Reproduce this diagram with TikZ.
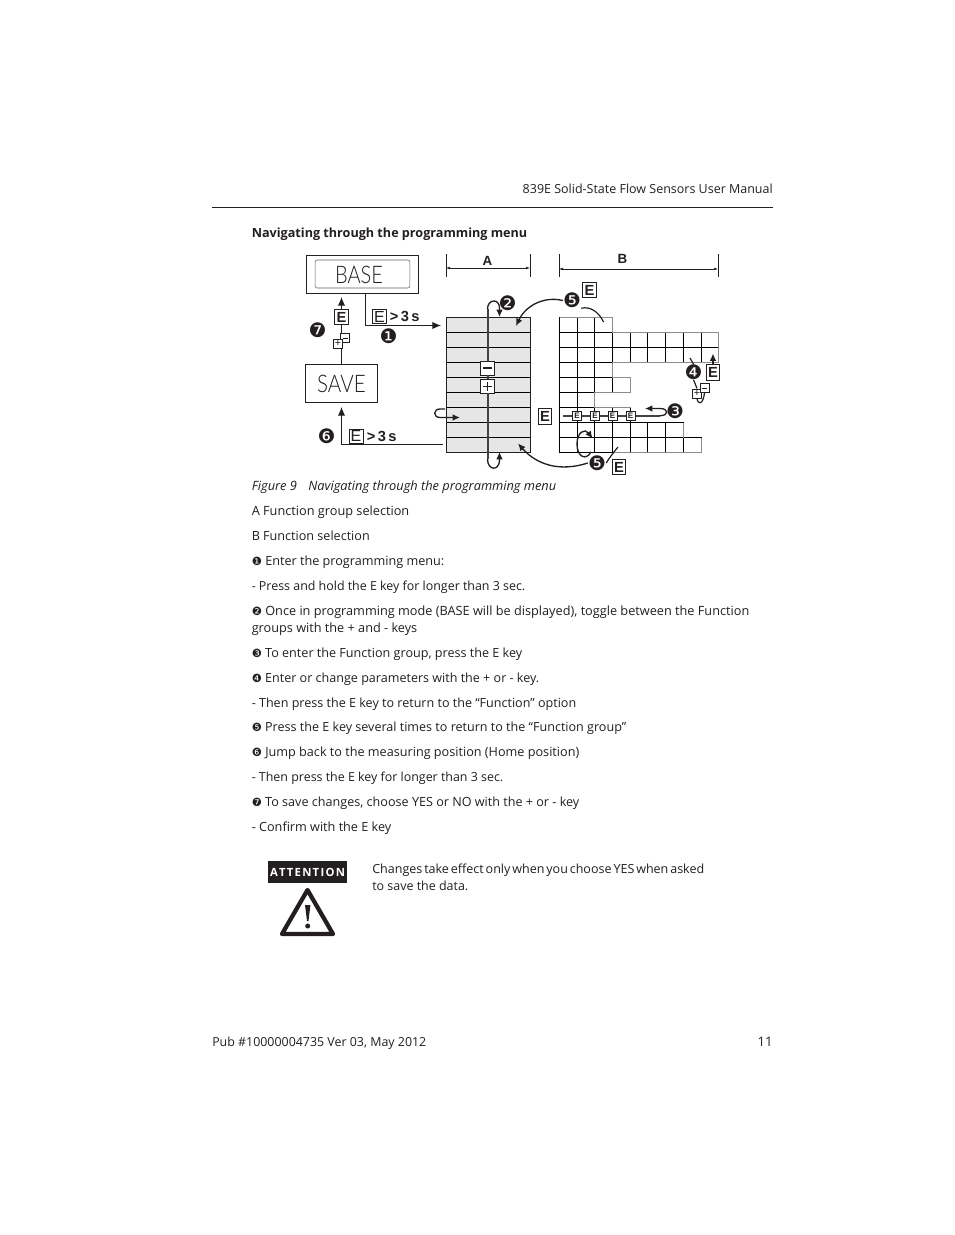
\documentclass[tikz,border=0pt]{standalone}
\usepackage{fontspec}
\usepackage{graphicx}
\setmainfont{Open Sans}
\newfontfamily\djv{DejaVu Sans}
\newfontfamily\arl{Liberation Sans}
\newfontfamily\lcdf{Lato Light}
\usetikzlibrary{arrows.meta,calc}
\newcommand{\cn}[1]{{\djv\fontsize{9}{10}\selectfont #1}}
\newcommand{\fw}[2]{\resizebox{\dimexpr#1pt*3/4\relax}{!}{#2}}
\definecolor{ink}{HTML}{231F20}
\definecolor{cellgray}{HTML}{E6E6E6}
\definecolor{edgegray}{HTML}{8C8C8C}
\tikzset{
 x=0.75pt,y=-0.75pt,
 txt/.style={anchor=base west,inner sep=0pt,font=\fontsize{10}{12}\selectfont,text=ink},
 frame/.style={draw=ink,line width=0.75pt,inner sep=0pt},
 ebox/.style={draw=ink,line width=0.7pt,fill=white,inner sep=0pt,minimum width=10pt,minimum height=11.5pt,font=\arl\bfseries\fontsize{11}{10}\selectfont,text=ink},
 smallbox/.style={draw=ink,line width=0.5pt,fill=white,inner sep=0pt,minimum width=7pt,minimum height=7pt,font=\arl\fontsize{8}{8}\selectfont,text=ink},
 keybox/.style={draw=ink,line width=0.6pt,fill=white,inner sep=0pt,minimum width=10.5pt,minimum height=10.5pt,font=\arl\fontsize{12}{12}\selectfont,text=ink},
 tinybox/.style={draw=ink,line width=0.6pt,fill=white,inner sep=0pt,minimum width=6.8pt,minimum height=6.8pt,font=\arl\bfseries\fontsize{6}{6}\selectfont,text=ink},
 num/.style={inner sep=0pt,font=\djv\fontsize{15}{15}\selectfont,text=ink},
 timing/.style={anchor=base west,inner sep=0pt,font=\arl\bfseries\fontsize{11}{11}\selectfont,text=ink},
 conn/.style={draw=ink,line width=0.75pt,-{Latex[length=6.5pt,width=5.5pt]}},
 plainconn/.style={draw=ink,line width=0.9pt},
 heavy/.style={draw=ink!85,line width=1.5pt},
 heavyarrow/.style={draw=ink,line width=1pt,-{Latex[length=5.5pt,width=5pt]}},
 dim/.style={draw=ink,line width=0.4pt},
 dimarrow/.style={draw=ink,line width=0.4pt,{Latex[length=3pt,width=2pt]}-{Latex[length=3pt,width=2pt]}},
 gridline/.style={draw=black,line width=0.75pt},
 stair/.style={draw=edgegray,line width=0.75pt},
}
\begin{document}
\begin{tikzpicture}
\useasboundingbox (0,0) rectangle (954,1235);
\fill[white] (0,0) rectangle (954,1235);

% --- header / footer
\node[txt,anchor=base east] (hdr) at (773,193) {\fw{250}{839E Solid-State Flow Sensors User Manual}};
\coordinate (ruleL) at (212,207.5); \coordinate (ruleR) at (773,207.5);
\draw[draw=ink,line width=0.75pt] (ruleL) -- (ruleR);
\node[txt,font=\bfseries\fontsize{10}{12}\selectfont] (title) at (251.5,237) {\fw{275.5}{Navigating through the programming menu}};

% --- display boxes
\node[frame,minimum width=84pt,minimum height=28.5pt] (base) at (362,274) {};
\node[draw=ink!70,line width=0.4pt,rounded corners=1.5pt,minimum width=71pt,minimum height=21pt,inner sep=0pt] (lcd) at (362.5,274) {};
\node[inner sep=0pt,font=\lcdf\fontsize{17}{17}\selectfont,text=ink] (lcdtxt) at (359,274.5) {\resizebox{36pt}{13pt}{BASE}};
\node[frame,minimum width=54pt,minimum height=28pt,font=\lcdf\fontsize{16.5}{17}\selectfont,text=ink] (save) at (341.5,383.5) {\resizebox{36.5pt}{13pt}{SAVE}};

% --- column A
\node[draw=ink,fill=cellgray,line width=0.75pt,minimum width=63pt,minimum height=101.25pt,inner sep=0pt] (colA) at (488.5,385) {};
\foreach \r in {1,...,8} \draw[gridline] ($(446.5,317.5)+(0,\r*15)$) -- ($(530.5,317.5)+(0,\r*15)$);

% --- dimension marks
\coordinate (a1) at (446,254); \coordinate (a2) at (446,277); \coordinate (a3) at (530,254); \coordinate (a4) at (530,277);
\coordinate (a5) at (446,268); \coordinate (a6) at (530,268);
\draw[dim] (a1)--(a2); \draw[dim] (a3)--(a4); \draw[dimarrow] (a5)--(a6);
\node[inner sep=0pt,font=\arl\bfseries\fontsize{10}{10}\selectfont,text=ink] (lblA) at (487.5,261) {A};
\coordinate (b1) at (559,254); \coordinate (b2) at (559,277); \coordinate (b3) at (718,254); \coordinate (b4) at (718,277);
\coordinate (b5) at (559,269); \coordinate (b6) at (718,269);
\draw[dim] (b1)--(b2); \draw[dim] (b3)--(b4); \draw[dimarrow] (b5)--(b6);
\node[inner sep=0pt,font=\arl\bfseries\fontsize{10}{10}\selectfont,text=ink] (lblB) at (622.5,259) {B};

% --- grid B
\def\colx{{559.5,577.5,594.5,612.5,630.5,647.5,665.5,683.5,701.5,718.5}}
\foreach \row/\cols in {0/3,1/9,2/9,3/3,4/4,5/2,6/4,7/7,8/8}{
  \foreach \c in {1,...,\cols}{
    \pgfmathsetmacro\xa{\colx[\c-1]}
    \pgfmathsetmacro\xb{\colx[\c]}
    \pgfmathsetmacro\ya{317.5+15*\row}
    \pgfmathsetmacro\yb{332.5+15*\row}
    \draw[gridline] (\xa,\ya) rectangle (\xb,\yb);
  }
}
\draw[stair] (559.5,317.5) -- (612.5,317.5) -- (612.5,332.5) -- (718.5,332.5) -- (718.5,362.5) -- (612.5,362.5) -- (612.5,377.5) -- (630.5,377.5) -- (630.5,392.5) -- (594.5,392.5) -- (594.5,407.5) -- (630.5,407.5);
\draw[stair] (683.5,422.5) -- (683.5,437.5);
\draw[stair] (701.5,437.5) -- (701.5,452.5) -- (612.5,452.5);

% --- flow, left side
\coordinate (c1) at (341.5,364.5); \coordinate (c2) at (341.5,297);
\draw[conn] (save.north -| c1) -- (c2);
\coordinate (c3) at (365.5,293); \coordinate (c4) at (441,325.5);
\draw[conn] (c3) |- (c4);
\coordinate (c5) at (443,444.5); \coordinate (c6) at (341.5,407);
\draw[conn] (c5) -| (c6);

\node[ebox] (e7) at (341.5,317) {E};
\node[smallbox] (m7) at (345,338) {};
\node[smallbox] (p7) at (338,343.5) {+};
\coordinate (m7a) at (342.5,338.2); \coordinate (m7b) at (347.5,338.2);
\draw[draw=ink,line width=0.6pt] (m7a)--(m7b);

\node[keybox] (e1) at (379.5,316.5) {E};
\node[timing] (t1) at (389.5,321) {>\,3\,s};
\node[keybox] (e6) at (356,436) {E};
\node[timing] (t6) at (366.5,441) {>\,3\,s};

\node[num] (n7) at (317.5,330.5) {❼};
\node[num] (n1) at (388.5,336.5) {❶};
\node[num] (n6) at (326.5,436) {❻};

% --- flow, column A
\node[keybox] (minus) at (487.5,368) {};
\node[keybox] (plus) at (487.5,386) {};
\coordinate (topS) at (487.5,309); \coordinate (botS) at (487.5,459);
\draw[heavy] (minus.north) -- (topS);
\draw[heavy] (minus.south) -- (plus.north);
\draw[heavy] (plus.south) -- (botS);
\coordinate (minA) at (483,368); \coordinate (minB) at (492,368);
\draw[draw=ink,line width=1.2pt] (minA)--(minB);
\coordinate (pluA) at (483,386); \coordinate (pluB) at (492,386); \coordinate (pluC) at (487.5,381.5); \coordinate (pluD) at (487.5,390.5);
\draw[draw=ink,line width=0.5pt] (pluA)--(pluB); \draw[draw=ink,line width=0.5pt] (pluC)--(pluD);
\coordinate (loopT) at (499.5,317);
\draw[heavyarrow] (topS) .. controls (487.5,299) and (499.5,298) .. (499.5,308) -- (loopT);
\coordinate (loopB) at (499.5,452);
\draw[heavyarrow] (botS) .. controls (487.5,471) and (499.5,471) .. (499.5,460) -- (loopB);
\coordinate (sideS) at (445,409); \coordinate (sideE) at (460,417.5);
\draw[heavyarrow] (sideS) -- (440,409) .. controls (433,409) and (433,417.5) .. (440,417.5) -- (sideE);
\node[ebox] (eA) at (545,416.5) {E};

% --- curves 5
\node[num] (n2) at (507.5,303) {❷};
\node[num] (n5a) at (572,300.5) {❺};
\node[ebox] (e5a) at (589.5,290) {E};
\coordinate (tipA) at (516,326); \coordinate (tail5a) at (603.5,322); 
\draw[heavyarrow] (n5a.west) .. controls (545,296) and (526,305) .. (tipA);
\draw[plainconn] (n5a.south east) .. controls (590,306) and (599,312) .. (tail5a);
\node[num] (n5b) at (597,463) {❺};
\node[ebox] (e5b) at (619,467) {E};
\coordinate (tipB) at (518,443.5); \coordinate (tail5b) at (618,447);
\draw[heavyarrow] (n5b.west) .. controls (560,472) and (537,465) .. (tipB);
\draw[plainconn] (n5b.east) .. controls (610,457) and (613,453) .. (tail5b);
\coordinate (lpS) at (591,452); \coordinate (lpT) at (592.5,438.5);
\draw[heavyarrow] (lpS) .. controls (586,461) and (577,457) .. (577,444) .. controls (577,432) and (585,428) .. (lpT);

% --- row with E keys, 3
\coordinate (rowS) at (563,415.7); \coordinate (rowE) at (660,415.7); \coordinate (tip3) at (645,408.5);
\draw[heavy] (rowS) -- (rowE);
\draw[heavyarrow] (rowE) .. controls (669,415.7) and (669,408.5) .. (660,408.5) -- (tip3);
\node[tinybox] (k1) at (577,416) {E};
\node[tinybox] (k2) at (595,416) {E};
\node[tinybox] (k3) at (612.5,416) {E};
\node[tinybox] (k4) at (630.5,416) {E};
\node[num] (n3) at (675,411.5) {❸};

% --- 4 group
\node[num] (n4) at (693.5,372) {❹};
\node[ebox] (e4) at (713,372.5) {E};
\coordinate (t4) at (690,358); \coordinate (tip4) at (713,353.5);
\draw[plainconn] (t4) -- (n4.north);
\draw[heavyarrow] (e4.north) -- (tip4);
\node[smallbox] (p4) at (697,393.5) {+};
\node[smallbox] (m4) at (704.5,388) {};
\coordinate (m4a) at (702,388); \coordinate (m4b) at (707,388);
\draw[draw=ink,line width=0.6pt] (m4a)--(m4b);
\draw[plainconn] (n4.south) -- (p4.north);
\draw[plainconn] (p4.south) .. controls (698,405) and (703,405) .. (m4.south);

% --- caption and body
\node[txt,font=\itshape\fontsize{10}{12}\selectfont] (cap) at (251.5,490) {\fw{304.5}{Figure 9\hspace{0.9em}Navigating through the programming menu}};
\node[txt] (l1) at (251.5,515) {\fw{157.5}{A Function group selection}};
\node[txt] (l2) at (251.5,540) {\fw{118}{B Function selection}};
\node[txt] (l3) at (251.5,565) {\fw{192.5}{\cn{❶} Enter the programming menu:}};
\node[txt] (l4) at (251.5,590) {\fw{273.5}{- Press and hold the E key for longer than 3 sec.}};
\node[txt] (l5) at (251.5,615) {\fw{497.5}{\cn{❷} Once in programming mode (BASE will be displayed), toggle between the Function}};
\node[txt] (l6) at (251.5,632) {\fw{165.5}{groups with the + and - keys}};
\node[txt] (l7) at (251.5,657) {\fw{270.5}{\cn{❸} To enter the Function group, press the E key}};
\node[txt] (l8) at (251.5,682) {\fw{287.5}{\cn{❹} Enter or change parameters with the + or - key.}};
\node[txt] (l9) at (251.5,707) {\fw{324.5}{- Then press the E key to return to the “Function” option}};
\node[txt] (l10) at (251.5,731) {\fw{374.5}{\cn{❺} Press the E key several times to return to the “Function group”}};
\node[txt] (l11) at (251.5,756) {\fw{327.5}{\cn{❻} Jump back to the measuring position (Home position)}};
\node[txt] (l12) at (251.5,781) {\fw{251.5}{- Then press the E key for longer than 3 sec.}};
\node[txt] (l13) at (251.5,806) {\fw{327.5}{\cn{❼} To save changes, choose YES or NO with the + or - key}};
\node[txt] (l14) at (251.5,831) {\fw{139.5}{- Confirm with the E key}};

% --- attention
\node[fill=ink,text=white,minimum width=59.5pt,minimum height=16.5pt,inner sep=0pt,font=\bfseries\fontsize{9}{10}\selectfont] (att) at (307.5,872) {\fw{75}{A\kern1ptT\kern1ptT\kern1ptE\kern1ptN\kern1ptT\kern1ptI\kern1ptO\kern1ptN}};
\coordinate (tr1) at (307.5,890); \coordinate (tr2) at (333,934); \coordinate (tr3) at (282,934);
\draw[draw=ink,line width=3.2pt,line join=round] (tr1)--(tr2)--(tr3)--cycle;
\fill[ink] (305,905) -- (310.4,905) -- (308.5,921) -- (307,921) -- cycle;
\fill[ink] (307.7,926) circle (2.5);
\node[txt] (w1) at (372,873) {\fw{332}{\spaceskip=.15em Changes take effect only when you choose YES when asked}};
\node[txt] (w2) at (372,890) {\fw{96}{to save the data.}};

\node[txt] (f1) at (212,1046) {\fw{214}{Pub \#10000004735 Ver 03, May 2012}};
\node[txt,anchor=base east] (f2) at (773,1046) {\fw{15}{11}};
\end{tikzpicture}
\end{document}
